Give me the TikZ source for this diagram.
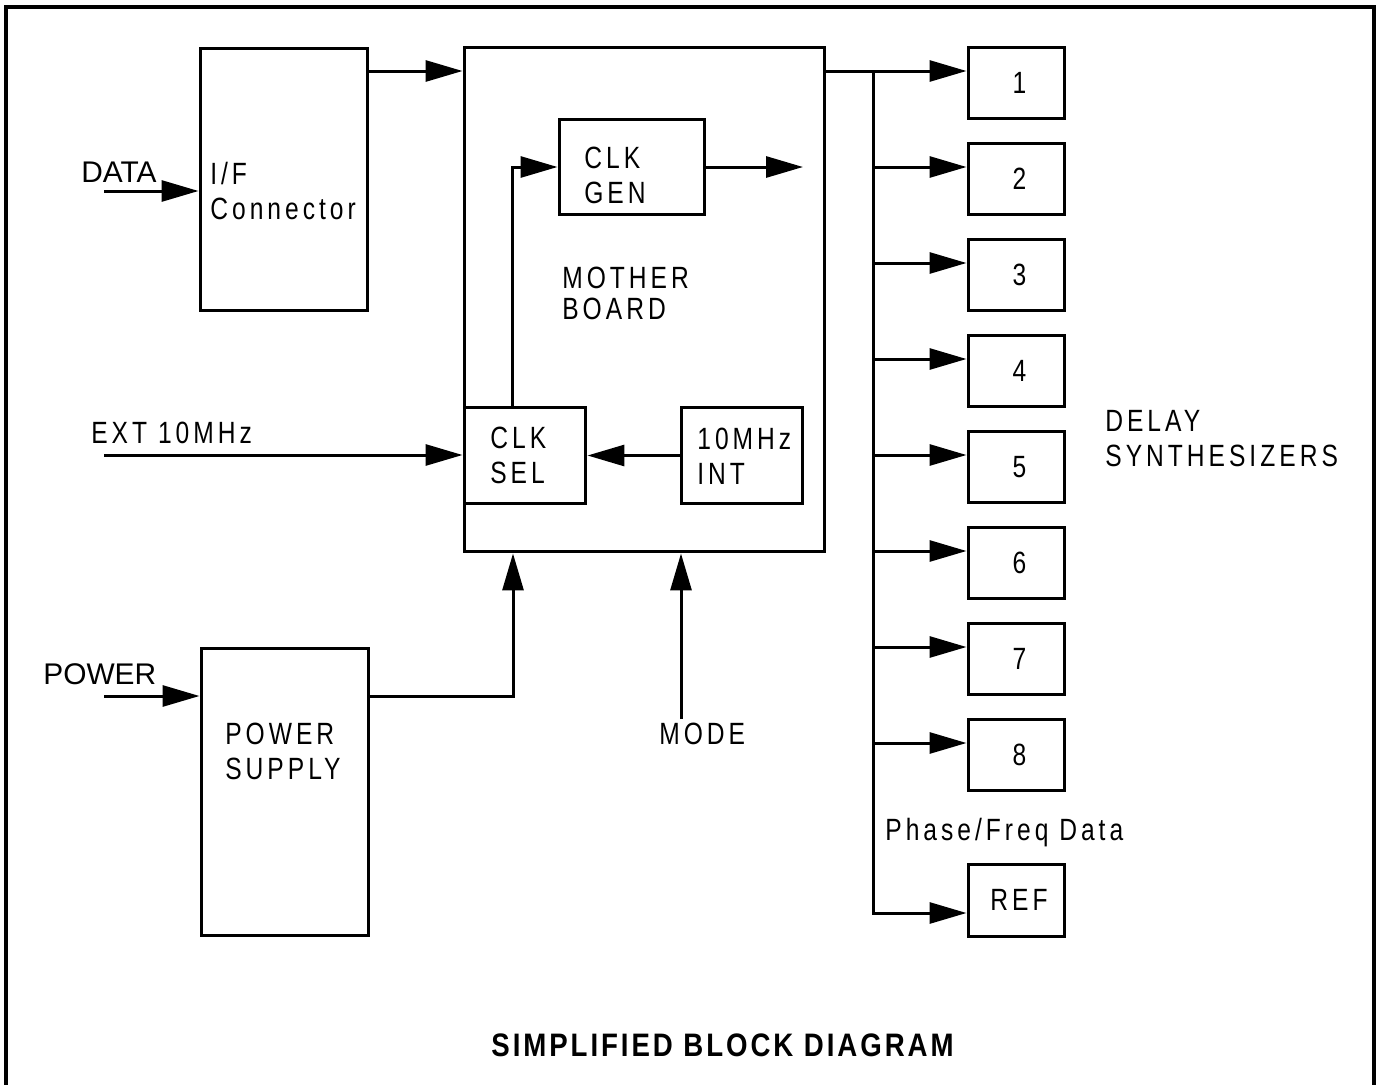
\documentclass[tikz,border=0pt]{standalone}
\usepackage{fontspec}
\setmainfont{Liberation Sans}
\newfontfamily\lblfont[FakeStretch=0.8,LetterSpace=13]{Liberation Sans}
\newfontfamily\ttlfont[FakeStretch=0.85,LetterSpace=9]{Liberation Sans}
\usetikzlibrary{arrows.meta}

\tikzset{
    blk/.style={draw, line width=0.06cm, inner sep=0pt},
    lbl/.style={inner sep=0pt, align=left, font=\lblfont\fontsize{17.5}{19.9}\selectfont},
    tag/.style={inner sep=0pt, font=\fontsize{17}{19.9}\selectfont},
    wire/.style={line width=0.06cm},
    arr/.style={line width=0.06cm, -{Triangle[length=0.74cm,width=0.42cm]}},
}

\begin{document}
\begin{tikzpicture}[x=0.02cm, y=-0.02cm]
    \useasboundingbox (0,0) rectangle (1377,1085);
    \draw[line width=0.07cm] (6,1085) -- (6,7) -- (1374,7) -- (1374,1085);

    % blocks
    \node[blk, minimum width=3.36cm, minimum height=5.26cm] (ifc) at (284,179.5) {};
    \node[blk, minimum width=7.22cm, minimum height=10.1cm] (mb) at (644.5,299.5) {};
    \node[blk, minimum width=2.92cm, minimum height=1.92cm] (clkgen) at (632,167) {};
    \node[blk, minimum width=2.44cm, minimum height=1.94cm] (clksel) at (525,455.5) {};
    \node[blk, minimum width=2.44cm, minimum height=1.94cm] (int10) at (742,455.5) {};
    \node[blk, minimum width=3.36cm, minimum height=5.76cm] (psu) at (285,792) {};
    \foreach \n in {1,...,8} {
        \node[blk, lbl, minimum width=1.94cm, minimum height=1.44cm]
            (syn\n) at (1016.5,{83+96*(\n-1)}) {\hspace{0.12cm}\n};
    }
    \node[blk, lbl, minimum width=1.94cm, minimum height=1.44cm] (ref) at (1016.5,900) {\hspace{0.1cm}REF};

    % labels
    \node[tag, anchor=base west] (datatxt) at (81,182) {DATA};
    \node[tag, anchor=base west] (pwrtxt) at (43,684) {POWER};
    \node[lbl, anchor=base west] (exttxt) at (91,443) {EXT 10MHz};
    \node[lbl, anchor=north west] (iftxt) at (210,162) {I/F\\Connector};
    \node[lbl, anchor=north west] (gentxt) at (584,147) {CLK\\GEN};
    \node[lbl, anchor=north west] (mbtxt) at (562,267) {MOTHER\\[-0.08cm]BOARD};
    \node[lbl, anchor=north west] (seltxt) at (490,427) {CLK\\SEL};
    \node[lbl, anchor=north west] (inttxt) at (697,428) {10MHz\\INT};
    \node[lbl, anchor=north west] (pstxt) at (225,723) {POWER\\SUPPLY};
    \node[lbl, anchor=base west] (modetxt) at (659,744) {MODE};
    \node[lbl, anchor=north west] (dstxt) at (1105,410) {DELAY\\SYNTHESIZERS};
    \node[lbl, anchor=base west] (pftxt) at (885,840) {Phase/Freq Data};
    \node[anchor=base, inner sep=0pt, font=\ttlfont\bfseries\fontsize{18.5}{22}\selectfont]
        (title) at (722.5,1056) {SIMPLIFIED BLOCK DIAGRAM};

    % free ends
    \coordinate (datain) at (104,191);
    \coordinate (extin) at (104,455);
    \coordinate (pwrin) at (104,696);
    \coordinate (modein) at (681,719);
    \coordinate (genout) at (803,167);
    \coordinate (bus) at (873,71);

    % connectors
    \draw[arr] (datain) -- (datain -| ifc.west);
    \draw[arr] (ifc.east |- 0,71) -- (mb.west |- 0,71);
    \draw[arr] (extin) -- (extin -| clksel.west);
    \draw[arr] (int10.west) -- (clksel.east);
    \draw[arr] (clksel.north -| 512,0) |- (clkgen.west);
    \draw[arr] (clkgen.east) -- (genout);
    \draw[arr] (pwrin) -- (pwrin -| psu.west);
    \draw[arr] (psu.east |- 0,696) -| (mb.south -| 513,0);
    \draw[arr] (modein) -- (modein |- mb.south);

    % bus to the synthesizers
    \draw[arr] (mb.east |- bus) -- (syn1.west |- bus);
    \foreach \n [evaluate=\n as \yy using 71+96*(\n-1)] in {2,...,8} {
        \draw[arr] (bus |- 0,\yy) -- (syn\n.west |- 0,\yy);
    }
    \draw[arr] (bus) |- (ref.west |- 0,913);
\end{tikzpicture}
\end{document}
